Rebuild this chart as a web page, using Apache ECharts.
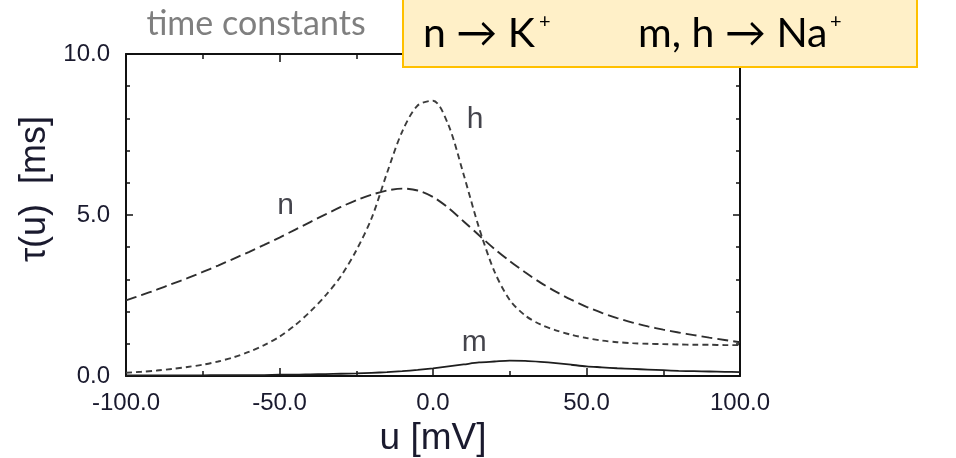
<!DOCTYPE html>
<html>
<head>
<meta charset="utf-8">
<script src="https://cdn.jsdelivr.net/npm/echarts@6/dist/echarts.min.js"></script>
<style>
  html, body { margin: 0; padding: 0; background: #ffffff; }
  #chart { width: 956px; height: 458px; }
</style>
</head>
<body>
<div id="chart"></div>
<script>
// Membrane potential u [mV], sampled every 5 mV
const uValues = [
  -100, -95, -90, -85, -80, -75, -70, -65, -60, -55,
  -50, -45, -40, -35, -30, -25, -20, -15, -10, -5,
  0, 5, 10, 15, 20, 25, 30, 35, 40, 45,
  50, 55, 60, 65, 70, 75, 80, 85, 90, 95, 100
];

// Time constant of the K+ activation variable n [ms]
const tauN = [
  2.35, 2.51, 2.68, 2.86, 3.04, 3.23, 3.43, 3.64, 3.85, 4.07,
  4.30, 4.54, 4.78, 5.02, 5.25, 5.46, 5.63, 5.76, 5.82, 5.76,
  5.56, 5.22, 4.80, 4.37, 3.95, 3.57, 3.22, 2.90, 2.62, 2.37,
  2.15, 1.96, 1.80, 1.66, 1.54, 1.44, 1.35, 1.27, 1.19, 1.12, 1.05
];

// Time constant of the Na+ inactivation variable h [ms]
const tauH = [
  0.10, 0.13, 0.17, 0.22, 0.28, 0.35, 0.45, 0.58, 0.75, 0.96,
  1.22, 1.57, 2.00, 2.50, 3.10, 3.90, 4.90, 6.30, 7.60, 8.40,
  8.55, 7.80, 6.25, 4.60, 3.25, 2.36, 1.88, 1.60, 1.42, 1.28,
  1.18, 1.10, 1.05, 1.02, 1.00, 0.99, 0.98, 0.97, 0.97, 0.96, 0.96
];

// Time constant of the Na+ activation variable m [ms]
const tauM = [
  0.02, 0.02, 0.02, 0.02, 0.02, 0.02, 0.03, 0.03, 0.03, 0.03,
  0.04, 0.04, 0.05, 0.06, 0.07, 0.08, 0.10, 0.12, 0.15, 0.19,
  0.24, 0.30, 0.36, 0.42, 0.45, 0.48, 0.47, 0.44, 0.40, 0.35,
  0.30, 0.27, 0.24, 0.22, 0.20, 0.18, 0.16, 0.15, 0.14, 0.13, 0.12
];

// Curve name tags, placed in data coordinates [u, tau]
const curveTags = [
  { name: 'n', u: -48, tau: 5.3 },
  { name: 'h', u: 13.7, tau: 7.95 },
  { name: 'm', u: 13.4, tau: 1.04 }
];

const xTicks = { min: -100, max: 100, step: 50 };
const yTicks = { min: 0, max: 10, step: 5 };

const pairs = (ys) => uValues.map((u, i) => [u, ys[i]]);

const sansFamily = '"Liberation Sans", Arial, sans-serif';

const tickFont = {
  fontFamily: sansFamily,
  fontSize: 24,
  color: '#1a1a2e'
};

const frameLine = { lineStyle: { color: '#111', width: 2 } };

function xAxisDef(pos, showLabels) {
  return {
    type: 'value', position: pos,
    min: xTicks.min, max: xTicks.max, interval: xTicks.step,
    axisLine: Object.assign({ show: true, onZero: false }, frameLine),
    axisTick: { show: true, inside: true, length: 8, lineStyle: { color: '#111', width: 1.5 } },
    minorTick: { show: true, splitNumber: 2, length: 5, lineStyle: { color: '#111', width: 1.5 } },
    axisLabel: Object.assign({
      show: showLabels, margin: 15,
      formatter: (v) => v.toFixed(1)
    }, tickFont),
    splitLine: { show: false }
  };
}

function yAxisDef(pos, showLabels) {
  return {
    type: 'value', position: pos,
    min: yTicks.min, max: yTicks.max, interval: yTicks.step,
    axisLine: Object.assign({ show: true, onZero: false }, frameLine),
    axisTick: { show: true, inside: true, length: 7, lineStyle: { color: '#111', width: 1.5 } },
    minorTick: { show: true, splitNumber: 5, length: 4, lineStyle: { color: '#111', width: 1.5 } },
    axisLabel: Object.assign({
      show: showLabels, margin: 16,
      formatter: (v) => v.toFixed(1)
    }, tickFont),
    splitLine: { show: false }
  };
}

const chart = echarts.init(document.getElementById('chart'), null, { renderer: 'canvas' });

const xA = [xAxisDef('bottom', true), xAxisDef('top', false)];
xA[0].name = 'u [mV]';
xA[0].nameLocation = 'middle';
xA[0].nameGap = 35;
xA[0].nameTextStyle = { fontFamily: sansFamily, fontSize: 37, color: '#1a1a2e' };

const boxFont = 'Lato, "Open Sans", sans-serif';

chart.setOption({
  animation: false,
  backgroundColor: '#ffffff',
  title: {
    text: 'time constants',
    left: 251, top: 2, textAlign: 'center',
    textStyle: { fontFamily: boxFont, fontSize: 34, fontWeight: 'normal', color: '#7f7f7f' }
  },
  grid: { left: 126, right: 216, top: 54, bottom: 82, outerBoundsMode: 'none', containLabel: false },
  xAxis: xA,
  yAxis: [yAxisDef('left', true), yAxisDef('right', false)],
  series: [
    {
      name: 'h', type: 'line', data: pairs(tauH), smooth: 0.3, showSymbol: false,
      lineStyle: { color: '#3c3c3c', width: 1.9, type: [6, 4] }, z: 3
    },
    {
      name: 'n', type: 'line', data: pairs(tauN), smooth: 0.3, showSymbol: false,
      lineStyle: { color: '#2e2e2e', width: 1.9, type: [11, 5] }, z: 3
    },
    {
      name: 'm', type: 'line', data: pairs(tauM), smooth: 0.3, showSymbol: false,
      lineStyle: { color: '#1e1e1e', width: 1.8 }, z: 3
    },
    {
      name: 'tags', type: 'scatter', symbolSize: 0,
      data: curveTags.map(t => ({ value: [t.u, t.tau], name: t.name })),
      label: {
        show: true, position: 'inside', formatter: (p) => p.name,
        fontFamily: sansFamily, fontSize: 30, color: '#15151f'
      },
      z: 4
    }
  ],
  graphic: [
    {
      type: 'text', x: 35, y: 189, rotation: Math.PI / 2,
      style: {
        text: 'τ(u)  [ms]', align: 'center', verticalAlign: 'middle',
        font: '36px "Liberation Sans", Arial, sans-serif', fill: '#1a1a2e'
      }
    },
    {
      type: 'rect', z: 100,
      shape: { x: 403, y: -3, width: 514, height: 70 },
      style: { fill: '#FFF0C8', stroke: '#FFC000', lineWidth: 2 }
    },
    {
      type: 'text', z: 101, x: 423, y: 34,
      style: { text: 'n → K', font: '41px ' + boxFont, fill: '#000', verticalAlign: 'middle' }
    },
    {
      type: 'text', z: 101, x: 539, y: 22,
      style: { text: '+', font: '20px ' + boxFont, fill: '#000', verticalAlign: 'middle' }
    },
    {
      type: 'text', z: 101, x: 638, y: 34,
      style: { text: 'm, h → Na', font: '41px ' + boxFont, fill: '#000', verticalAlign: 'middle' }
    },
    {
      type: 'text', z: 101, x: 830, y: 22,
      style: { text: '+', font: '20px ' + boxFont, fill: '#000', verticalAlign: 'middle' }
    }
  ]
});
</script>
</body>
</html>
